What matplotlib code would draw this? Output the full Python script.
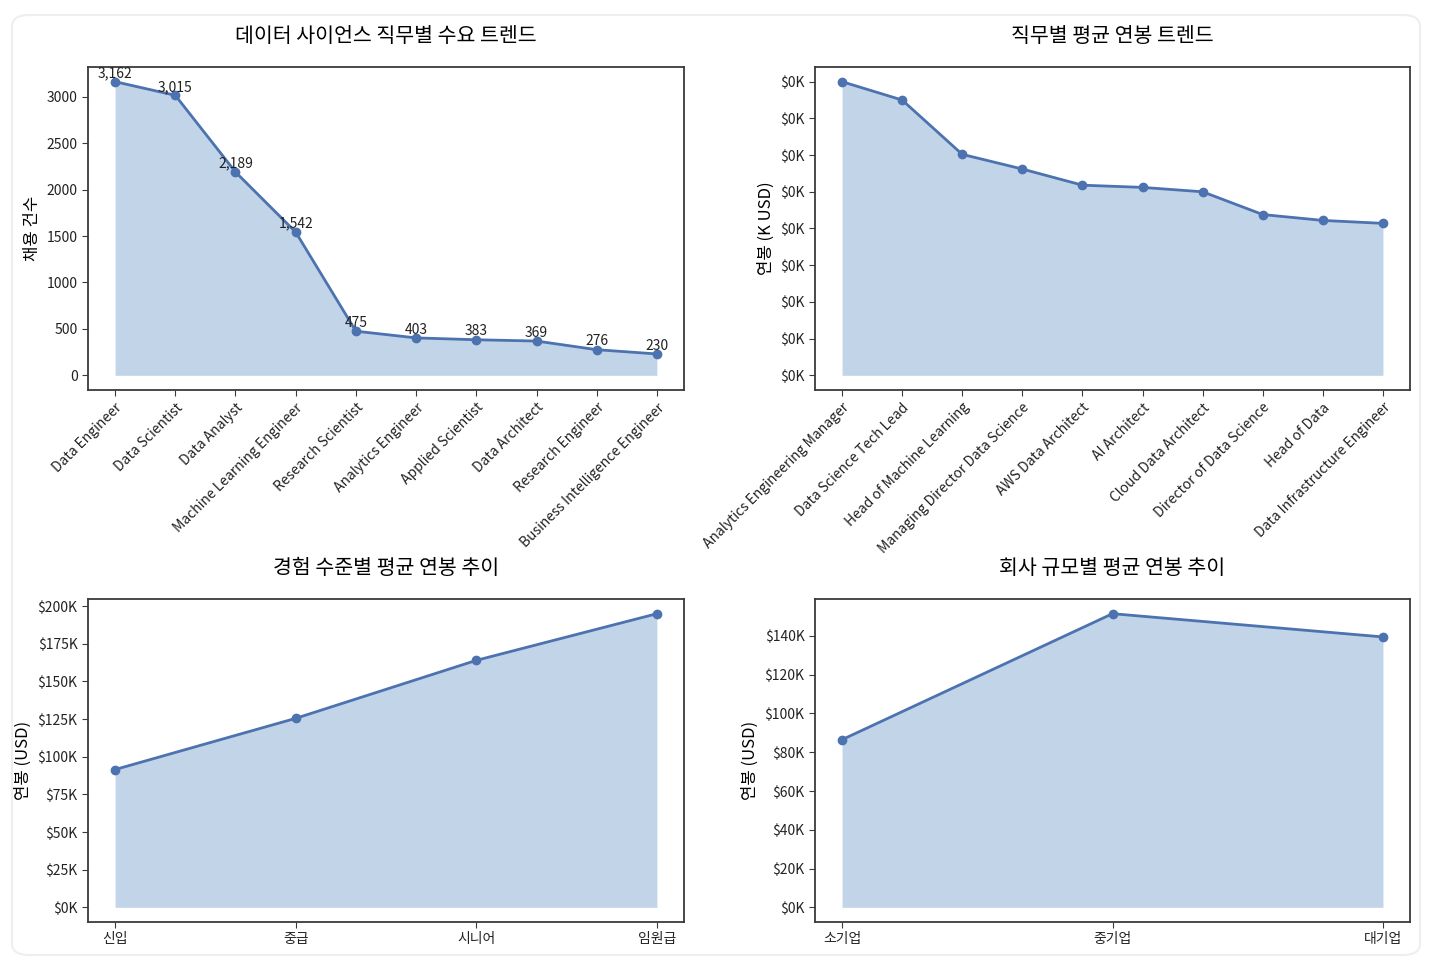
import matplotlib
matplotlib.use("Agg")
import matplotlib.pyplot as plt
from matplotlib.ticker import FuncFormatter, MultipleLocator
from matplotlib.patches import FancyBboxPatch

plt.rcParams['font.family'] = ['Noto Sans CJK KR', 'DejaVu Sans']
plt.rcParams['axes.unicode_minus'] = False

# ---- data ----
demand_roles = ["Data Engineer", "Data Scientist", "Data Analyst", "Machine Learning Engineer",
                "Research Scientist", "Analytics Engineer", "Applied Scientist", "Data Architect",
                "Research Engineer", "Business Intelligence Engineer"]
demand_counts = [3162, 3015, 2189, 1542, 475, 403, 383, 369, 276, 230]

salary_roles = ["Analytics Engineering Manager", "Data Science Tech Lead", "Head of Machine Learning",
                "Managing Director Data Science", "AWS Data Architect", "AI Architect",
                "Cloud Data Architect", "Director of Data Science", "Head of Data",
                "Data Infrastructure Engineer"]
salary_k = [400, 375, 301, 281, 259, 256, 250, 219, 211, 207]

exp_levels = ["신입", "중급", "시니어", "임원급"]
exp_salary = [91500, 125500, 164000, 195000]

company_sizes = ["소기업", "중기업", "대기업"]
company_salary = [86500, 151500, 139500]

LINE = "#4c72b0"
FILL = "#c2d4e8"
SPINE = "#3a3a3a"

fig = plt.figure(figsize=(14.3, 9.63), dpi=100)
W, H = 1430, 963

# faint card outline
card = FancyBboxPatch((12 / W, 1 - 955 / H), (1420 - 12) / W, (955 - 15) / H,
                      boxstyle="round,pad=0,rounding_size=0.012",
                      transform=fig.transFigure, facecolor='none',
                      edgecolor='#eeeeee', linewidth=1.5, zorder=-1)
fig.patches.append(card)

def make_ax(x0, y0, x1, y1):
    return fig.add_axes([x0 / W, 1 - y1 / H, (x1 - x0) / W, (y1 - y0) / H])

ax1 = make_ax(88, 67, 684, 390)
ax2 = make_ax(815, 67, 1410, 390)
ax3 = make_ax(88, 599, 684, 922)
ax4 = make_ax(815, 599, 1410, 922)

def style(ax):
    for s in ax.spines.values():
        s.set_color(SPINE)
        s.set_linewidth(1.3)
    ax.tick_params(axis='both', labelsize=10, colors='#222222', length=4, color=SPINE)

def area(ax, labels, vals):
    x = list(range(len(labels)))
    ax.fill_between(x, vals, 0, color=FILL, linewidth=0)
    ax.plot(x, vals, color=LINE, linewidth=2, marker='o', markersize=6)
    ax.set_xticks(x)
    ax.margins(x=0.05, y=0.05)
    return x

TITLE_FS = 14.8

# chart 1
x = area(ax1, demand_roles, demand_counts)
ax1.set_xticklabels(demand_roles, rotation=45, ha='right', rotation_mode='anchor', fontsize=10)
for xi, v in zip(x, demand_counts):
    ax1.annotate(f"{v:,}", (xi, v), xytext=(0, 1), textcoords='offset points',
                 ha='center', va='bottom', fontsize=10, color='#222222')
ax1.set_ylabel("채용 건수", fontsize=12)
ax1.set_title("데이터 사이언스 직무별 수요 트렌드", fontsize=TITLE_FS, pad=18)
ax1.yaxis.set_major_locator(MultipleLocator(500))
style(ax1)

# chart 2
x = area(ax2, salary_roles, salary_k)
ax2.set_xticklabels(salary_roles, rotation=45, ha='right', rotation_mode='anchor', fontsize=10)
ax2.yaxis.set_major_locator(MultipleLocator(50))
ax2.yaxis.set_major_formatter(FuncFormatter(lambda v, p: f"${v/1000:.0f}K"))
ax2.set_ylabel("연봉 (K USD)", fontsize=12)
ax2.set_title("직무별 평균 연봉 트렌드", fontsize=TITLE_FS, pad=18)
style(ax2)

# chart 3
x = area(ax3, exp_levels, exp_salary)
ax3.set_xticklabels(exp_levels, fontsize=10.5)
ax3.yaxis.set_major_locator(MultipleLocator(25000))
ax3.yaxis.set_major_formatter(FuncFormatter(lambda v, p: f"${v/1000:.0f}K"))
ax3.set_ylabel("연봉 (USD)", fontsize=12)
ax3.set_title("경험 수준별 평균 연봉 추이", fontsize=TITLE_FS, pad=18)
style(ax3)

# chart 4
x = area(ax4, company_sizes, company_salary)
ax4.set_xticklabels(company_sizes, fontsize=10.5)
ax4.yaxis.set_major_locator(MultipleLocator(20000))
ax4.yaxis.set_major_formatter(FuncFormatter(lambda v, p: f"${v/1000:.0f}K"))
ax4.set_ylabel("연봉 (USD)", fontsize=12)
ax4.set_title("회사 규모별 평균 연봉 추이", fontsize=TITLE_FS, pad=18)
style(ax4)

fig.savefig("out.png", dpi=100, facecolor='white')
